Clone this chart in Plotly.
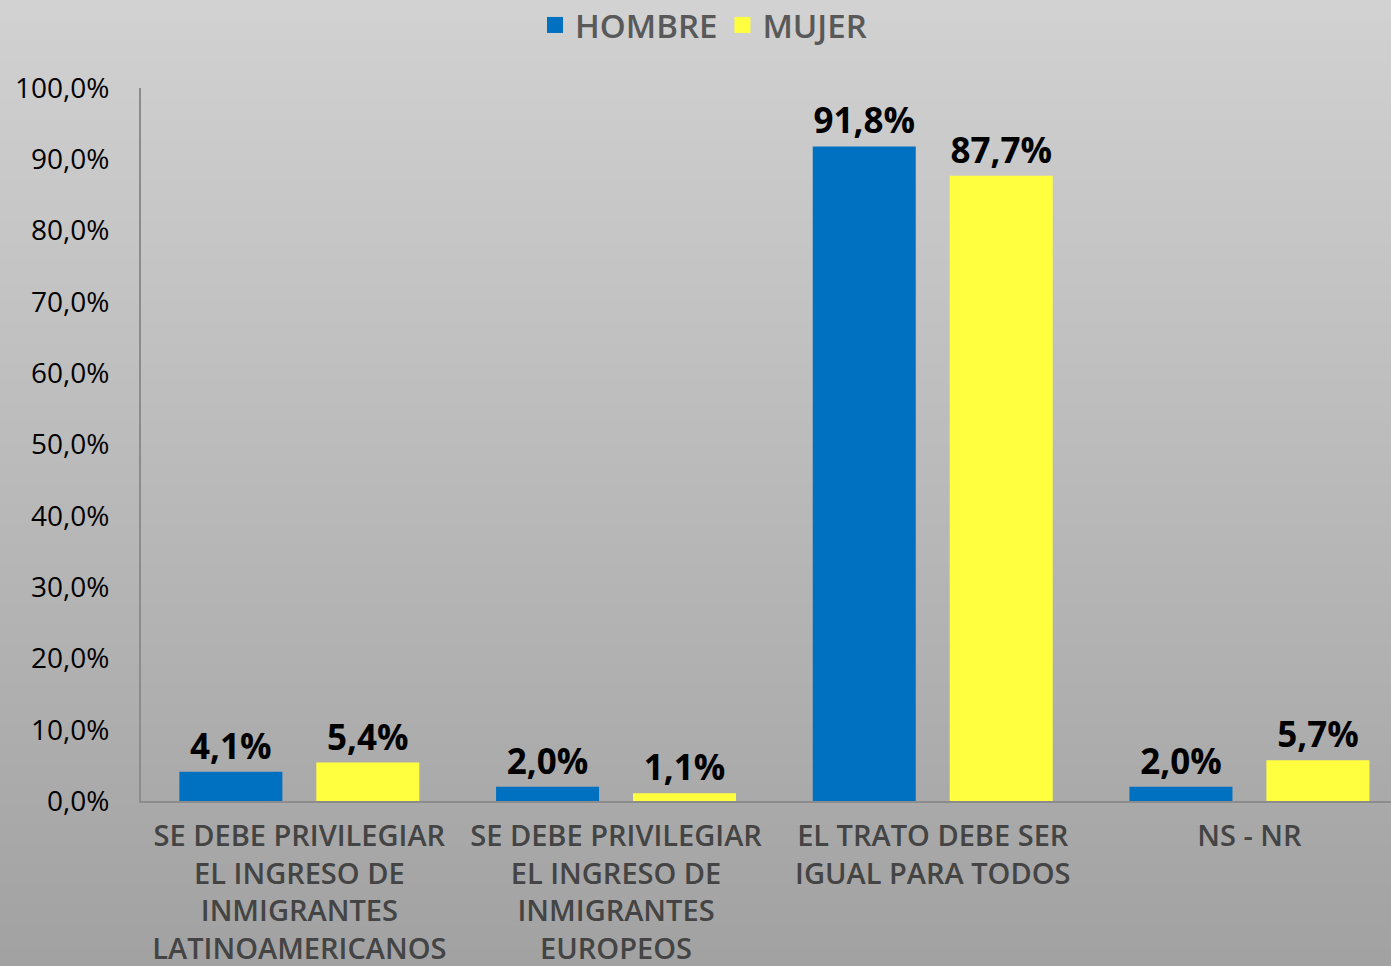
import plotly.graph_objects as go

categories = [
    "SE DEBE PRIVILEGIAR<br>EL INGRESO DE<br>INMIGRANTES<br>LATINOAMERICANOS",
    "SE DEBE PRIVILEGIAR<br>EL INGRESO DE<br>INMIGRANTES<br>EUROPEOS",
    "EL TRATO DEBE SER<br>IGUAL PARA TODOS",
    "NS - NR",
]
series_names = ["HOMBRE", "MUJER"]
hombre = [4.1, 2.0, 91.8, 2.0]
mujer = [5.4, 1.1, 87.7, 5.7]
yticks = [0, 10, 20, 30, 40, 50, 60, 70, 80, 90, 100]
yticktext = [f"{v:.1f}%".replace(".", ",") for v in yticks]
colors = ["#0070C0", "#FFFF40"]

fig = go.Figure()
label_font = dict(family="Open Sans", size=35, color="black", weight="bold")
for name, vals, col in zip(series_names, [hombre, mujer], colors):
    fig.add_trace(go.Bar(name=name, x=categories, y=vals, marker_color=col,
                         marker_line_width=0, showlegend=False,
                         text=[f"{v:.1f}%".replace(".", ",") for v in vals],
                         textposition="outside", textfont=label_font, cliponaxis=False))
    fig.add_trace(go.Scatter(name=name, x=[None], y=[None], mode="markers",
                             marker=dict(symbol="square", size=20, color=col),
                             showlegend=True))

# background vertical gradient
H = 966 - 88 - 165
ybot = -165 / H
ytop = 1 + 88 / H
shapes = []
n = 48
top = (210, 210, 210)
bot = (162, 162, 162)
step = (ytop - ybot) / n
for i in range(n):
    t = i / (n - 1)
    c = tuple(int(top[k] + (bot[k] - top[k]) * t) for k in range(3))
    shapes.append(dict(type="rect", xref="paper", yref="paper", layer="below",
                       x0=-0.2, x1=1.2, y0=ytop - (i + 1) * step - 0.002, y1=ytop - i * step,
                       fillcolor="rgb(%d,%d,%d)" % c, line_width=0))

fig.update_layout(
    width=1391, height=966,
    margin=dict(l=141, r=0, t=88, b=165, autoexpand=False),
    paper_bgcolor="#bdbdbd", plot_bgcolor="rgba(0,0,0,0)",
    barmode="group", bargap=0.135, bargroupgap=0.248,
    showlegend=True,
    legend=dict(orientation="h", x=0.45, xanchor="center", y=1 + 63 / H, yanchor="middle",
                font=dict(family="Open Sans", size=33, color="#595959", weight=600),
                bgcolor="rgba(0,0,0,0)", itemsizing="trace"),
    shapes=shapes,
    xaxis=dict(showline=True, linecolor="#8c8c8c", linewidth=2, ticks="", tickangle=0,
               automargin=False, range=[-0.5, 3.447], ticklabelstandoff=8,
               tickfont=dict(family="Open Sans", size=29, color="#444444", weight=600),
               showgrid=False),
    yaxis=dict(range=[0, 100], tickvals=yticks, ticktext=yticktext, automargin=False,
               showline=True, linecolor="#8c8c8c", linewidth=2, showgrid=False, zeroline=False,
               tickfont=dict(family="Open Sans", size=28, color="black"), ticks="",
               ticklabelstandoff=24),
)
fig.write_html("out.html", config={"displayModeBar": False},
               post_script="document.body.style.margin='0';")
